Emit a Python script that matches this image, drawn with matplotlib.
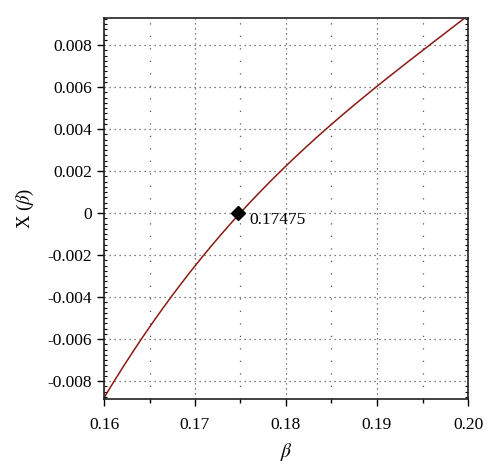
import matplotlib
matplotlib.use("Agg")
import matplotlib.pyplot as plt
from matplotlib.ticker import MultipleLocator, FixedLocator
import numpy as np

plt.rcParams['font.family'] = ['Liberation Serif', 'DejaVu Serif']
plt.rcParams['mathtext.fontset'] = 'stix'

beta = [0.16, 0.16425, 0.16725, 0.17085, 0.17475, 0.1797, 0.18495, 0.1896, 0.19527, 0.20]
X = [-0.0088, -0.006, -0.004, -0.002, 0.0, 0.002, 0.004, 0.006, 0.008, 0.0093]
root_beta = 0.17475
root_label = "0.17475"
xticks = [0.16, 0.17, 0.18, 0.19, 0.20]
xtick_labels = ["0.16", "0.17", "0.18", "0.19", "0.20"]
yticks = [-0.008, -0.006, -0.004, -0.002, 0, 0.002, 0.004, 0.006, 0.008]
ytick_labels = ["-0.008", "-0.006", "-0.004", "-0.002", "0", "0.002", "0.004", "0.006", "0.008"]

coef = np.polyfit(beta, X, 3)
bb = np.linspace(beta[0], beta[-1], 300)
xx = np.polyval(coef, bb)

fig = plt.figure(figsize=(5.0, 4.74), dpi=100)
ax = fig.add_axes([104/500, 1-399/474, (468-104)/500, (399-18)/474])

ax.plot(bb, xx, color='#8b1a12', lw=1.1)
ax.plot([root_beta], [0], marker='D', color='black', markersize=7, ls='none', zorder=5)
ax.annotate(root_label, (root_beta, 0), xytext=(8, -5), textcoords='offset points',
            fontsize=12.5, ha='left', va='center')

ax.set_xlim(0.16, 0.20)
ax.set_ylim(-0.008857, 0.009286)

ax.set_xticks(xticks)
ax.set_xticklabels(xtick_labels)
ax.set_yticks(yticks)
ax.set_yticklabels(ytick_labels)
ax.xaxis.set_minor_locator(FixedLocator([0.165, 0.175, 0.185, 0.195]))
ax.yaxis.set_minor_locator(MultipleLocator(0.00025))

ax.tick_params(axis='both', which='major', direction='out', length=5, width=1, labelsize=12.5)
ax.tick_params(axis='x', which='major', pad=8)
ax.tick_params(axis='x', which='minor', direction='out', length=3, width=1)
ax.tick_params(axis='y', which='minor', direction='in', length=2, width=0.8, right=True)
ax.tick_params(axis='y', which='major', right=False)

ax.grid(True, which='major', axis='both', ls=(0, (1, 3)), color='#555555', lw=0.9)
ax.grid(True, which='minor', axis='x', ls=(0, (1, 9)), color='#555555', lw=0.9)

for s in ax.spines.values():
    s.set_linewidth(1.2)
    s.set_color('#222222')

ax.set_xlabel(r'$\beta$', fontsize=14, labelpad=6)
ax.set_ylabel(r'X ($\beta$)', fontsize=13.5, labelpad=8)

fig.savefig('out.png', dpi=100)
